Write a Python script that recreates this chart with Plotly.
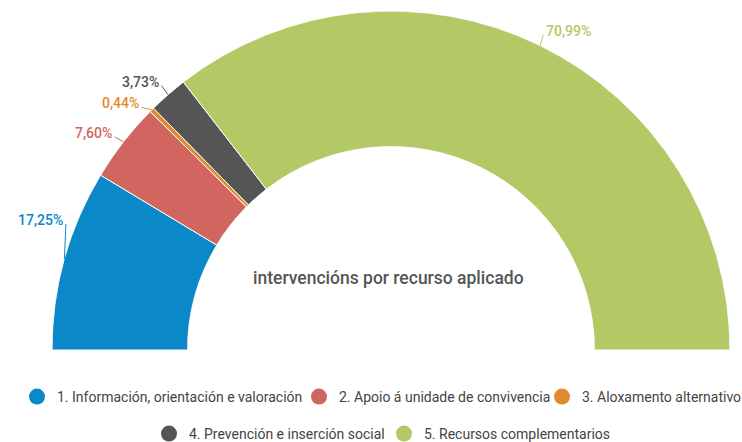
import math
import plotly.graph_objects as go

categories = [
    "1. Información, orientación e valoración",
    "2. Apoio á unidade de convivencia",
    "3. Aloxamento alternativo",
    "4. Prevención e inserción social",
    "5. Recursos complementarios",
]
percent = [17.25, 7.60, 0.44, 3.73, 70.99]
pct_labels = ["17,25%", "7,60%", "0,44%", "3,73%", "70,99%"]
colors = ["#0A88C8", "#D0665F", "#E08A2E", "#555555", "#B2C965"]
center_title = "intervencións por recurso aplicado"

# legend entry placement (style): circle centre x and row y, in pixels
legend_pos = [(38, 397), (320, 397), (563, 397), (170, 434), (405, 434)]
# label placement style (pixels): extra nudge added to a radial offset
label_nudge = [(17, -31), (4, 5), (1, 9), (4, 3), (-4, 4)]

W, H = 742, 442
total = sum(percent)
widths = [p / total * 180.0 for p in percent]
starts = []
acc = 0.0
for w in widths:
    starts.append(acc)
    acc += w
mids = [s + w / 2 for s, w in zip(starts, widths)]

fig = go.Figure()
for cat, w, m, c in zip(categories, widths, mids, colors):
    fig.add_trace(go.Barpolar(
        r=[1], theta=[m], width=[w], base=[0], name=cat,
        marker=dict(color=c, line=dict(color="white", width=1)),
        showlegend=False, hoverinfo="name",
    ))

legend_layouts = {}
for i, (cat, c) in enumerate(zip(categories, colors)):
    key = "legend" if i == 0 else f"legend{i + 1}"
    fig.add_trace(go.Scatterpolar(
        r=[None], theta=[None], mode="markers", name=cat,
        marker=dict(color=c, size=16, symbol="circle"),
        legend=key, showlegend=True,
    ))
    cx, cy = legend_pos[i]
    legend_layouts[key] = dict(
        orientation="h", xref="container", yref="container",
        x=(cx - 21) / W, xanchor="left", y=1 - cy / H, yanchor="middle",
        font=dict(family="Roboto", size=14, color="#444444"),
        itemsizing="trace", bgcolor="rgba(0,0,0,0)",
    )

annotations = []
shapes = []
d = 16
for m, c, t, (nx, ny) in zip(mids, colors, pct_labels, label_nudge):
    phi = math.radians(180 - m)
    x = 0.5 + 0.5 * math.cos(phi)
    y = math.sin(phi)
    left = math.cos(phi) < 0
    dx = d * math.cos(phi) + nx
    dy = d * math.sin(phi) - ny
    shapes.append(dict(
        type="line", xref="paper", yref="paper",
        xsizemode="pixel", ysizemode="pixel", xanchor=x, yanchor=y,
        x0=0, y0=0, x1=dx, y1=dy, line=dict(color=c, width=1),
    ))
    annotations.append(dict(
        x=x, y=y, xref="paper", yref="paper", text=t, showarrow=False,
        xshift=dx + (-1 if left else 1), yshift=dy + 4,
        xanchor="right" if left else "left", yanchor="middle",
        font=dict(family="Roboto", size=14, color=c, weight=500),
    ))

annotations.append(dict(
    x=0.497, y=0.178, xref="paper", yref="paper", text=center_title,
    showarrow=False, font=dict(family="Roboto", size=17.5, color="#555555", weight=500),
))

fig.update_layout(
    width=W, height=H,
    margin=dict(l=52, r=12, t=11, b=92, autoexpand=False),
    paper_bgcolor="white", plot_bgcolor="white",
    font=dict(family="Roboto", color="#444444"),
    polar=dict(
        domain=dict(x=[0, 1], y=[0, 1]),
        sector=[0, 180], hole=0.6, bgcolor="white",
        angularaxis=dict(direction="clockwise", rotation=180, visible=False,
                         showgrid=False, showline=False, thetaunit="degrees"),
        radialaxis=dict(range=[0, 1], visible=False, showgrid=False, showline=False),
    ),
    annotations=annotations,
    shapes=shapes,
    **legend_layouts,
)

fig.write_html("out.html", config={"displayModeBar": False},
               post_script="document.body.style.margin='0';")
